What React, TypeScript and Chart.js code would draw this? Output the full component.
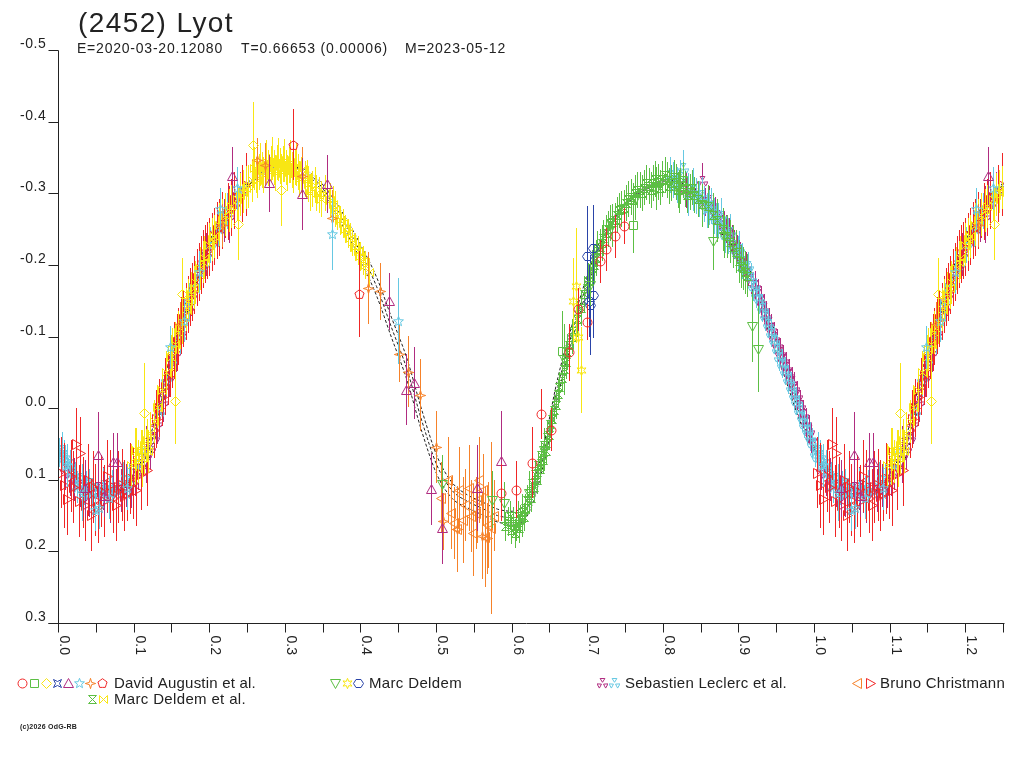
import { useEffect, useRef } from 'react'
import { Chart, registerables } from 'chart.js'

Chart.register(...registerables)

const FONT = "'Liberation Sans', Arial, sans-serif"
const INK = '#222222'

const RED = '#f02626'
const GREEN = '#5cbf44'
const YELLOW = '#f8e614'
const BLUE = '#2a44a8'
const MAGENTA = '#b02c80'
const CYAN = '#66c8e2'
const ORANGE = '#f6822a'

// axis
const xMin = 0
const xMax = 1.25
const yMin = -0.5
const yMax = 0.3
const xTicks = [0, 0.1, 0.2, 0.3, 0.4, 0.5, 0.6, 0.7, 0.8, 0.9, 1.0, 1.1, 1.2]
const xTickLabels = ['0.0', '0.1', '0.2', '0.3', '0.4', '0.5', '0.6', '0.7', '0.8', '0.9', '1.0', '1.1', '1.2']
const yTicks = [-0.5, -0.4, -0.3, -0.2, -0.1, 0, 0.1, 0.2, 0.3]
const yTickLabels = ['-0.5', '-0.4', '-0.3', '-0.2', '-0.1', '0.0', '0.1', '0.2', '0.3']

// fitted model (phase, mag) and its two envelopes
const modelPhase = [0.00, 0.02, 0.04, 0.06, 0.08, 0.10, 0.12, 0.14, 0.16, 0.18, 0.20, 0.22, 0.24, 0.26, 0.28, 0.30, 0.32, 0.34, 0.36, 0.38, 0.40, 0.42, 0.44, 0.46, 0.48, 0.50, 0.52, 0.54, 0.56, 0.58, 0.60, 0.62, 0.64, 0.66, 0.68, 0.70, 0.72, 0.74, 0.76, 0.78, 0.80, 0.82, 0.84, 0.86, 0.88, 0.90, 0.92, 0.94, 0.96, 0.98, 1.00]
const modelMag = [0.060, 0.095, 0.112, 0.116, 0.112, 0.095, 0.055, -0.030, -0.110, -0.178, -0.235, -0.275, -0.303, -0.321, -0.333, -0.338, -0.334, -0.318, -0.290, -0.255, -0.215, -0.170, -0.112, -0.055, 0.018, 0.080, 0.115, 0.130, 0.140, 0.150, 0.153, 0.138, 0.070, -0.030, -0.110, -0.180, -0.238, -0.273, -0.296, -0.309, -0.316, -0.315, -0.304, -0.280, -0.245, -0.210, -0.168, -0.115, -0.055, 0.008, 0.060]
const modelUpper = [0.056, 0.091, 0.108, 0.112, 0.108, 0.091, 0.042, -0.044, -0.121, -0.187, -0.242, -0.279, -0.306, -0.323, -0.335, -0.340, -0.336, -0.322, -0.297, -0.264, -0.226, -0.183, -0.126, -0.070, 0.003, 0.067, 0.104, 0.121, 0.131, 0.141, 0.144, 0.127, 0.057, -0.043, -0.121, -0.189, -0.243, -0.276, -0.298, -0.311, -0.318, -0.317, -0.307, -0.285, -0.252, -0.219, -0.179, -0.127, -0.067, -0.002, 0.056]
const modelLower = [0.064, 0.099, 0.116, 0.120, 0.116, 0.099, 0.068, -0.016, -0.099, -0.169, -0.228, -0.271, -0.300, -0.319, -0.331, -0.336, -0.332, -0.314, -0.283, -0.246, -0.204, -0.157, -0.098, -0.040, 0.033, 0.093, 0.126, 0.139, 0.149, 0.159, 0.162, 0.149, 0.083, -0.017, -0.099, -0.171, -0.233, -0.270, -0.294, -0.307, -0.314, -0.313, -0.301, -0.275, -0.238, -0.201, -0.157, -0.103, -0.043, 0.018, 0.064]

// observations: [phase, mag, error]
const augustinCircle = [[0.584, 0.118, 0.04], [0.605, 0.114, 0.04], [0.625, 0.076, 0.05], [0.638, 0.008, 0.035], [0.651, 0.030, 0.03], [0.675, -0.078, 0.04], [0.686, -0.138, 0.03], [0.698, -0.120, 0.025], [0.716, -0.205, 0.03], [0.724, -0.222, 0.03], [0.736, -0.240, 0.03], [0.748, -0.254, 0.025]]
const augustinSquare = [[0.666, -0.080, 0.055], [0.759, -0.256, 0.04]]
const augustinDiamond = [[0.112, 0.007, 0.07], [0.154, -0.010, 0.06], [0.163, -0.160, 0.05], [0.237, -0.257, 0.05], [0.257, -0.368, 0.06], [0.294, -0.304, 0.05]]
const augustinBowtie: number[][] = []
const augustinTriangle = [[0.035, 0.112, 0.04], [0.052, 0.065, 0.06], [0.060, 0.122, 0.03], [0.072, 0.075, 0.04], [0.077, 0.075, 0.04], [0.229, -0.324, 0.04], [0.278, -0.314, 0.04], [0.322, -0.299, 0.05], [0.354, -0.313, 0.04], [0.436, -0.149, 0.04], [0.459, -0.026, 0.05], [0.469, -0.035, 0.05], [0.492, 0.113, 0.05], [0.507, 0.168, 0.05], [0.553, 0.111, 0.06], [0.585, 0.074, 0.07]]
const augustinStar = [[0.010, 0.080, 0.03], [0.030, 0.118, 0.04], [0.048, 0.142, 0.03], [0.053, 0.139, 0.03], [0.066, 0.125, 0.03], [0.090, 0.112, 0.03], [0.147, -0.085, 0.03], [0.165, -0.122, 0.03], [0.185, -0.190, 0.03], [0.213, -0.278, 0.03], [0.236, -0.307, 0.03], [0.361, -0.243, 0.05], [0.449, -0.122, 0.06]]
const augustinFourStar = [[0.160, -0.118, 0.03], [0.215, -0.255, 0.03], [0.262, -0.347, 0.03], [0.273, -0.340, 0.03], [0.322, -0.324, 0.04], [0.361, -0.265, 0.04], [0.409, -0.168, 0.05], [0.424, -0.163, 0.04], [0.450, -0.076, 0.04], [0.462, -0.051, 0.05], [0.477, -0.018, 0.05], [0.499, 0.054, 0.05], [0.508, 0.158, 0.04], [0.527, 0.169, 0.05], [0.559, 0.179, 0.06], [0.566, 0.182, 0.05]]
const augustinPentagon = [[0.310, -0.368, 0.05], [0.397, -0.160, 0.06]]

const deldemTriDown = [[0.506, 0.106, 0.04], [0.573, 0.128, 0.04], [0.588, 0.133, 0.03], [0.612, 0.150, 0.03], [0.622, 0.118, 0.03], [0.641, 0.058, 0.03], [0.668, -0.068, 0.05], [0.702, -0.172, 0.03], [0.731, -0.255, 0.03], [0.762, -0.292, 0.03], [0.790, -0.306, 0.03], [0.820, -0.302, 0.03], [0.850, -0.283, 0.03], [0.865, -0.233, 0.04], [0.880, -0.240, 0.03], [0.917, -0.114, 0.05], [0.925, -0.082, 0.06]]
const deldemStar = [[0.680, -0.150, 0.06], [0.684, -0.171, 0.08], [0.686, -0.099, 0.05], [0.690, -0.053, 0.06]]
const deldemHexagon = [[0.699, -0.212, 0.07], [0.701, -0.150, 0.05], [0.703, -0.144, 0.07], [0.706, -0.158, 0.06], [0.707, -0.224, 0.06]]

const leclercMagenta = [[0.008, 0.085, 0.03], [0.015, 0.092, 0.03], [0.020, 0.100, 0.03], [0.028, 0.108, 0.03], [0.035, 0.110, 0.03], [0.040, 0.122, 0.03], [0.045, 0.118, 0.03], [0.052, 0.110, 0.03], [0.058, 0.112, 0.03], [0.064, 0.116, 0.03], [0.068, 0.120, 0.04], [0.075, 0.118, 0.03], [0.082, 0.115, 0.03], [0.088, 0.108, 0.03], [0.095, 0.100, 0.04], [0.100, 0.092, 0.03], [0.105, 0.085, 0.03], [0.110, 0.078, 0.03], [0.115, 0.065, 0.04], [0.120, 0.055, 0.03], [0.125, 0.040, 0.03], [0.130, 0.020, 0.03], [0.138, -0.010, 0.03], [0.145, -0.045, 0.03], [0.150, -0.062, 0.03], [0.155, -0.080, 0.03], [0.162, -0.108, 0.03], [0.170, -0.140, 0.03], [0.175, -0.158, 0.03], [0.180, -0.175, 0.03], [0.188, -0.195, 0.03], [0.195, -0.215, 0.03], [0.205, -0.232, 0.03], [0.212, -0.250, 0.03], [0.218, -0.262, 0.03], [0.225, -0.270, 0.04], [0.232, -0.285, 0.03], [0.240, -0.300, 0.03],
  [0.830, -0.305, 0.025], [0.840, -0.300, 0.02], [0.851, -0.317, 0.025], [0.855, -0.288, 0.02], [0.860, -0.290, 0.02], [0.863, -0.280, 0.02], [0.868, -0.275, 0.02], [0.871, -0.270, 0.02], [0.875, -0.262, 0.02], [0.879, -0.255, 0.02], [0.882, -0.250, 0.02], [0.886, -0.245, 0.02], [0.890, -0.235, 0.02], [0.893, -0.228, 0.02], [0.897, -0.222, 0.02], [0.901, -0.212, 0.02], [0.905, -0.205, 0.02], [0.909, -0.198, 0.02], [0.912, -0.190, 0.02], [0.916, -0.180, 0.02], [0.920, -0.172, 0.02], [0.924, -0.160, 0.02], [0.928, -0.150, 0.02], [0.932, -0.140, 0.02], [0.935, -0.130, 0.02], [0.939, -0.120, 0.02], [0.942, -0.112, 0.02], [0.946, -0.100, 0.02], [0.950, -0.090, 0.02], [0.954, -0.078, 0.02], [0.958, -0.068, 0.02], [0.962, -0.058, 0.02], [0.965, -0.048, 0.02], [0.969, -0.038, 0.02], [0.972, -0.030, 0.02], [0.976, -0.018, 0.02], [0.980, -0.005, 0.02], [0.984, 0.008, 0.02], [0.988, 0.020, 0.02], [0.992, 0.030, 0.02], [0.995, 0.042, 0.02]]
const leclercCyan = [[0.000, 0.062, 0.02], [0.002, 0.068, 0.02], [0.004, 0.058, 0.025], [0.006, 0.065, 0.02], [0.008, 0.072, 0.02], [0.011, 0.082, 0.02], [0.014, 0.078, 0.02], [0.018, 0.090, 0.02], [0.021, 0.095, 0.02], [0.024, 0.112, 0.02], [0.028, 0.098, 0.02], [0.033, 0.115, 0.02], [0.036, 0.108, 0.02], [0.040, 0.105, 0.02], [0.044, 0.118, 0.02], [0.048, 0.112, 0.025], [0.052, 0.120, 0.025], [0.058, 0.108, 0.025], [0.064, 0.115, 0.025], [0.070, 0.112, 0.025], [0.076, 0.118, 0.025], [0.085, 0.100, 0.025], [0.092, 0.102, 0.025], [0.100, 0.080, 0.025], [0.110, 0.060, 0.025], [0.132, 0.005, 0.02], [0.142, -0.040, 0.025], [0.150, -0.068, 0.025], [0.160, -0.100, 0.025], [0.165, -0.125, 0.025], [0.172, -0.150, 0.025], [0.180, -0.175, 0.025], [0.190, -0.200, 0.025], [0.200, -0.228, 0.025], [0.210, -0.250, 0.025], [0.215, -0.262, 0.025], [0.222, -0.275, 0.025], [0.232, -0.290, 0.025], [0.240, -0.302, 0.025],
  [0.808, -0.325, 0.025], [0.812, -0.318, 0.025], [0.818, -0.312, 0.025], [0.822, -0.322, 0.025], [0.826, -0.335, 0.025], [0.832, -0.298, 0.03], [0.838, -0.305, 0.03], [0.842, -0.296, 0.025], [0.846, -0.292, 0.025], [0.850, -0.298, 0.025], [0.853, -0.285, 0.025], [0.857, -0.276, 0.025], [0.860, -0.280, 0.025], [0.863, -0.282, 0.025], [0.866, -0.268, 0.025], [0.869, -0.262, 0.025], [0.872, -0.262, 0.025], [0.875, -0.268, 0.025], [0.878, -0.250, 0.025], [0.881, -0.242, 0.025], [0.885, -0.240, 0.025], [0.888, -0.246, 0.025], [0.892, -0.228, 0.025], [0.895, -0.220, 0.025], [0.898, -0.215, 0.025], [0.900, -0.222, 0.025], [0.903, -0.205, 0.025], [0.908, -0.195, 0.025], [0.912, -0.198, 0.02], [0.915, -0.182, 0.02], [0.918, -0.170, 0.02], [0.922, -0.160, 0.02], [0.926, -0.152, 0.02], [0.930, -0.140, 0.02], [0.934, -0.128, 0.02], [0.938, -0.118, 0.02], [0.942, -0.105, 0.02], [0.946, -0.095, 0.02], [0.950, -0.082, 0.02], [0.953, -0.072, 0.02], [0.956, -0.062, 0.02], [0.960, -0.052, 0.02], [0.964, -0.040, 0.02], [0.968, -0.030, 0.02], [0.972, -0.018, 0.02], [0.975, -0.010, 0.02], [0.979, 0.002, 0.02], [0.983, 0.012, 0.02], [0.986, 0.022, 0.02], [0.990, 0.030, 0.02], [0.993, 0.040, 0.02], [0.996, 0.048, 0.02]]

const christmannLeft = [[0.505, 0.125, 0.05], [0.514, 0.100, 0.06], [0.518, 0.146, 0.05], [0.522, 0.160, 0.05], [0.527, 0.169, 0.06], [0.529, 0.114, 0.06], [0.534, 0.156, 0.06], [0.537, 0.135, 0.05], [0.542, 0.111, 0.06], [0.545, 0.151, 0.05], [0.547, 0.175, 0.06], [0.551, 0.146, 0.05], [0.553, 0.128, 0.06], [0.555, 0.100, 0.06], [0.561, 0.114, 0.05], [0.564, 0.180, 0.07], [0.567, 0.163, 0.06], [0.571, 0.167, 0.12], [0.575, 0.150, 0.05]]
const christmannRight = [[0.003, 0.090, 0.05], [0.006, 0.108, 0.06], [0.011, 0.127, 0.05], [0.016, 0.095, 0.05], [0.019, 0.110, 0.05], [0.022, 0.050, 0.05], [0.026, 0.130, 0.05], [0.028, 0.063, 0.05], [0.032, 0.118, 0.05], [0.035, 0.135, 0.05], [0.038, 0.100, 0.05], [0.042, 0.149, 0.05], [0.045, 0.110, 0.05], [0.048, 0.128, 0.05], [0.052, 0.138, 0.05], [0.055, 0.116, 0.05], [0.060, 0.130, 0.05], [0.064, 0.095, 0.05], [0.068, 0.108, 0.05], [0.072, 0.125, 0.05], [0.075, 0.135, 0.05], [0.078, 0.110, 0.05], [0.083, 0.107, 0.05], [0.086, 0.122, 0.05], [0.090, 0.118, 0.04], [0.094, 0.098, 0.05], [0.098, 0.105, 0.05], [0.102, 0.115, 0.05], [0.108, 0.092, 0.05], [0.117, 0.086, 0.05], [0.125, 0.030, 0.04], [0.128, 0.015, 0.04], [0.132, 0.000, 0.04], [0.136, -0.015, 0.04], [0.140, -0.030, 0.04], [0.144, -0.045, 0.04], [0.147, -0.055, 0.04], [0.150, -0.068, 0.04], [0.152, -0.080, 0.04], [0.156, -0.092, 0.04], [0.158, -0.100, 0.04], [0.162, -0.115, 0.04], [0.164, -0.125, 0.04], [0.168, -0.135, 0.04], [0.170, -0.145, 0.04], [0.173, -0.155, 0.04], [0.176, -0.162, 0.04], [0.179, -0.172, 0.04], [0.182, -0.182, 0.04], [0.185, -0.190, 0.04], [0.188, -0.200, 0.04], [0.191, -0.208, 0.04], [0.193, -0.215, 0.04], [0.196, -0.220, 0.04], [0.198, -0.225, 0.04], [0.202, -0.232, 0.04], [0.205, -0.240, 0.04], [0.209, -0.248, 0.04], [0.212, -0.252, 0.04], [0.216, -0.262, 0.04], [0.220, -0.268, 0.03], [0.224, -0.275, 0.04], [0.228, -0.280, 0.04], [0.232, -0.290, 0.04], [0.236, -0.295, 0.03], [0.242, -0.300, 0.04], [0.247, -0.312, 0.044]]

const deldemEtAlHourglass = [[0.590, 0.165, 0.02], [0.594, 0.158, 0.02], [0.596, 0.150, 0.02], [0.598, 0.170, 0.02], [0.601, 0.158, 0.02], [0.603, 0.175, 0.02], [0.604, 0.165, 0.02], [0.607, 0.150, 0.02], [0.609, 0.168, 0.02], [0.610, 0.155, 0.02], [0.613, 0.145, 0.02], [0.615, 0.152, 0.02], [0.616, 0.140, 0.02], [0.619, 0.128, 0.02], [0.622, 0.118, 0.02], [0.624, 0.125, 0.02], [0.626, 0.105, 0.02], [0.628, 0.110, 0.02], [0.630, 0.092, 0.02], [0.632, 0.100, 0.02], [0.634, 0.080, 0.02], [0.636, 0.085, 0.02], [0.638, 0.066, 0.02], [0.640, 0.072, 0.02], [0.642, 0.052, 0.02], [0.644, 0.060, 0.02], [0.646, 0.040, 0.02], [0.648, 0.038, 0.02], [0.650, 0.022, 0.02], [0.652, 0.015, 0.02], [0.655, 0.002, 0.02], [0.658, -0.005, 0.02], [0.660, -0.020, 0.02], [0.662, -0.030, 0.02], [0.665, -0.042, 0.02], [0.668, -0.055, 0.025], [0.670, -0.065, 0.025], [0.672, -0.078, 0.025], [0.675, -0.088, 0.025], [0.678, -0.100, 0.025], [0.680, -0.108, 0.025], [0.685, -0.125, 0.025], [0.690, -0.140, 0.025], [0.695, -0.160, 0.025], [0.698, -0.168, 0.025], [0.700, -0.178, 0.025], [0.705, -0.196, 0.025], [0.708, -0.200, 0.025], [0.710, -0.210, 0.025], [0.712, -0.222, 0.025], [0.715, -0.225, 0.025], [0.718, -0.230, 0.025], [0.720, -0.238, 0.025], [0.723, -0.245, 0.025], [0.726, -0.250, 0.025], [0.729, -0.258, 0.025], [0.732, -0.260, 0.025], [0.735, -0.262, 0.025], [0.738, -0.270, 0.025], [0.741, -0.276, 0.025], [0.744, -0.278, 0.025], [0.747, -0.280, 0.025], [0.750, -0.286, 0.025], [0.753, -0.292, 0.025], [0.756, -0.295, 0.025], [0.759, -0.290, 0.025], [0.762, -0.300, 0.025], [0.765, -0.305, 0.025], [0.768, -0.304, 0.025], [0.771, -0.300, 0.025], [0.774, -0.308, 0.025], [0.777, -0.315, 0.025], [0.780, -0.310, 0.025], [0.783, -0.305, 0.025], [0.786, -0.314, 0.025], [0.789, -0.320, 0.025], [0.792, -0.316, 0.025], [0.795, -0.308, 0.025], [0.798, -0.320, 0.025], [0.801, -0.325, 0.025], [0.804, -0.318, 0.025], [0.807, -0.310, 0.025], [0.810, -0.314, 0.025], [0.813, -0.322, 0.025], [0.816, -0.316, 0.025], [0.819, -0.305, 0.025], [0.822, -0.310, 0.025], [0.825, -0.318, 0.025], [0.828, -0.306, 0.025], [0.831, -0.298, 0.025], [0.834, -0.302, 0.025], [0.837, -0.308, 0.025], [0.840, -0.298, 0.025], [0.845, -0.292, 0.025], [0.850, -0.285, 0.025], [0.858, -0.282, 0.03], [0.865, -0.270, 0.03], [0.870, -0.262, 0.03], [0.878, -0.250, 0.03], [0.884, -0.240, 0.03], [0.888, -0.232, 0.03], [0.892, -0.225, 0.03], [0.895, -0.218, 0.03], [0.900, -0.205, 0.03], [0.902, -0.198, 0.03], [0.905, -0.195, 0.03], [0.908, -0.190, 0.03], [0.910, -0.185, 0.03]]
const deldemEtAlBowtie = [[0.095, 0.080, 0.03], [0.100, 0.068, 0.04], [0.102, 0.058, 0.03], [0.104, 0.075, 0.03], [0.108, 0.060, 0.03], [0.110, 0.070, 0.04], [0.112, 0.052, 0.04], [0.116, 0.045, 0.03], [0.118, 0.060, 0.03], [0.120, 0.035, 0.03], [0.125, 0.018, 0.03], [0.130, -0.002, 0.03], [0.136, -0.025, 0.03], [0.142, -0.050, 0.03], [0.148, -0.072, 0.03], [0.150, -0.082, 0.03], [0.153, -0.090, 0.03], [0.158, -0.106, 0.03], [0.160, -0.112, 0.03], [0.163, -0.120, 0.03], [0.168, -0.138, 0.03], [0.170, -0.150, 0.03], [0.175, -0.160, 0.03], [0.178, -0.168, 0.03], [0.180, -0.176, 0.03], [0.186, -0.195, 0.03], [0.190, -0.204, 0.03], [0.192, -0.210, 0.03], [0.198, -0.228, 0.03], [0.202, -0.236, 0.03], [0.205, -0.240, 0.03], [0.212, -0.256, 0.03], [0.215, -0.262, 0.03], [0.220, -0.270, 0.03], [0.225, -0.276, 0.03], [0.228, -0.282, 0.03], [0.236, -0.292, 0.03], [0.240, -0.298, 0.03], [0.244, -0.302, 0.03], [0.248, -0.308, 0.03], [0.250, -0.310, 0.03], [0.255, -0.318, 0.03], [0.258, -0.335, 0.03], [0.260, -0.325, 0.025], [0.262, -0.318, 0.025], [0.264, -0.330, 0.025], [0.266, -0.340, 0.03], [0.268, -0.333, 0.025], [0.270, -0.326, 0.025], [0.272, -0.338, 0.025], [0.274, -0.345, 0.03], [0.276, -0.335, 0.025], [0.278, -0.330, 0.025], [0.280, -0.341, 0.025], [0.282, -0.348, 0.03], [0.284, -0.336, 0.025], [0.286, -0.328, 0.025], [0.288, -0.343, 0.025], [0.290, -0.347, 0.03], [0.292, -0.338, 0.025], [0.294, -0.330, 0.025], [0.296, -0.341, 0.025], [0.298, -0.346, 0.03], [0.300, -0.336, 0.025], [0.302, -0.328, 0.025], [0.304, -0.339, 0.025], [0.306, -0.344, 0.03], [0.308, -0.333, 0.025], [0.310, -0.326, 0.025], [0.312, -0.336, 0.025], [0.314, -0.340, 0.03], [0.316, -0.330, 0.025], [0.318, -0.320, 0.025], [0.320, -0.326, 0.025], [0.322, -0.334, 0.03], [0.325, -0.320, 0.025], [0.328, -0.322, 0.025], [0.330, -0.313, 0.025], [0.332, -0.300, 0.025], [0.335, -0.306, 0.025], [0.338, -0.312, 0.025], [0.340, -0.300, 0.025], [0.344, -0.298, 0.025], [0.346, -0.292, 0.025], [0.352, -0.300, 0.025], [0.358, -0.290, 0.025], [0.362, -0.285, 0.025], [0.365, -0.278, 0.025], [0.368, -0.268, 0.02], [0.372, -0.262, 0.02], [0.375, -0.258, 0.02], [0.378, -0.250, 0.02], [0.382, -0.244, 0.02], [0.385, -0.238, 0.02], [0.388, -0.232, 0.02], [0.392, -0.225, 0.02], [0.395, -0.220, 0.02], [0.398, -0.212, 0.02], [0.402, -0.206, 0.02], [0.405, -0.200, 0.02], [0.410, -0.190, 0.02]]

// small hollow markers, drawn once into canvases and used as point styles
function makeMarker(shape: string, color: string) {
  const c = document.createElement('canvas')
  c.width = 11
  c.height = 11
  const g = c.getContext('2d')!
  g.strokeStyle = color
  g.lineWidth = 1
  g.translate(5.5, 5.5)
  g.beginPath()
  const poly = (p: number[][]) => {
    p.forEach(([x, y], i) => (i ? g.lineTo(x, y) : g.moveTo(x, y)))
    g.closePath()
  }
  const star = (n: number, ro: number, ri: number, rot = -Math.PI / 2) => {
    const p: number[][] = []
    for (let i = 0; i < n * 2; i++) {
      const r = i % 2 ? ri : ro
      const a = rot + (i * Math.PI) / n
      p.push([r * Math.cos(a), r * Math.sin(a)])
    }
    poly(p)
  }
  switch (shape) {
    case 'circle': g.arc(0, 0, 4.5, 0, Math.PI * 2); break
    case 'square': g.rect(-4, -4, 8, 8); break
    case 'diamond': poly([[0, -5], [5, 0], [0, 5], [-5, 0]]); break
    case 'bowtieSquare': poly([[-4, -4], [0, -2], [4, -4], [2, 0], [4, 4], [0, 2], [-4, 4], [-2, 0]]); break
    case 'triangle': poly([[0, -5], [5, 4], [-5, 4]]); break
    case 'star5': star(5, 5.2, 2.2); break
    case 'star4': star(4, 5.2, 1.6); break
    case 'star6': star(6, 5.2, 2.4); break
    case 'pentagon': star(5, 4.8, 4.8 * Math.cos(Math.PI / 5)); break
    case 'hexagon': poly([[-5, 0], [-2.5, -4], [2.5, -4], [5, 0], [2.5, 4], [-2.5, 4]]); break
    case 'triDown': poly([[0, 5], [5, -4], [-5, -4]]); break
    case 'triLeft': poly([[-5, 0], [4, -5], [4, 5]]); break
    case 'triRight': poly([[5, 0], [-4, -5], [-4, 5]]); break
    case 'hourglass': poly([[-4, -4], [4, -4], [-4, 4], [4, 4]]); break
    case 'bowtie': poly([[-4, -4], [4, 4], [4, -4], [-4, 4]]); break
    case 'trefoil':
      ;[-90, 30, 150].forEach((deg) => {
        const a = (deg * Math.PI) / 180
        const ux = Math.cos(a), uy = Math.sin(a)
        const px = -uy, py = ux
        g.moveTo(ux * 1.2, uy * 1.2)
        g.lineTo(ux * 5 + px * 2.4, uy * 5 + py * 2.4)
        g.lineTo(ux * 5 - px * 2.4, uy * 5 - py * 2.4)
        g.closePath()
      })
      break
  }
  g.stroke()
  return c
}

// fold: points of phase < 0.25 are shown again one cycle later
function toPoints(rows: number[][]) {
  const out = rows.map(([x, y, e]) => ({ x, y, e }))
  rows.filter((r) => r[0] < 0.25).forEach(([x, y, e]) => out.push({ x: x + 1, y, e }))
  return out
}

function toCurve(mags: number[]) {
  const out = modelPhase.map((p, i) => ({ x: p, y: mags[i] }))
  modelPhase.forEach((p, i) => {
    if (i > 0 && p <= 0.26) out.push({ x: p + 1, y: mags[i] })
  })
  return out
}

// error bars under each marker; markers are placed on whole pixels so they stay sharp
const errorBars = {
  id: 'errorBars',
  beforeDatasetDraw(chart: any, args: any) {
    const ds = chart.data.datasets[args.index]
    if (!ds.errorBars) return
    const { ctx, chartArea } = chart
    const ys = chart.scales.y
    const els = args.meta.data
    ctx.save()
    ctx.beginPath()
    ctx.rect(chartArea.left, chartArea.top, chartArea.right - chartArea.left, chartArea.bottom - chartArea.top)
    ctx.clip()
    ctx.strokeStyle = ds.borderColor
    ctx.lineWidth = 1
    ctx.beginPath()
    ds.data.forEach((d: any, i: number) => {
      const px = Math.round(els[i].x) + 0.5
      ctx.moveTo(px, Math.round(ys.getPixelForValue(d.y - d.e)))
      ctx.lineTo(px, Math.round(ys.getPixelForValue(d.y + d.e)))
    })
    ctx.stroke()
    els.forEach((el: any) => {
      ctx.drawImage(ds.pointStyle, Math.round(el.x) - 5, Math.round(el.y) - 5)
    })
    ctx.restore()
    return false
  },
}

function fitText(ctx: CanvasRenderingContext2D, text: string, x: number, y: number, width: number) {
  ;(ctx as any).letterSpacing = '0px'
  const w = ctx.measureText(text).width
  ;(ctx as any).letterSpacing = `${(width - w) / text.length}px`
  ctx.fillText(text, x, y)
  ;(ctx as any).letterSpacing = '0px'
}

export default function App() {
  const canvasRef = useRef<HTMLCanvasElement | null>(null)
  const chartRef = useRef<Chart | null>(null)

  useEffect(() => {
    document.body.style.margin = '0'
    const ctx = canvasRef.current?.getContext('2d')
    if (!ctx) return
    if (chartRef.current) chartRef.current.destroy()

    const m = {
      circle: makeMarker('circle', RED),
      square: makeMarker('square', GREEN),
      diamond: makeMarker('diamond', YELLOW),
      bowtieSq: makeMarker('bowtieSquare', BLUE),
      triangle: makeMarker('triangle', MAGENTA),
      star5: makeMarker('star5', CYAN),
      star4: makeMarker('star4', ORANGE),
      pentagon: makeMarker('pentagon', RED),
      triDown: makeMarker('triDown', GREEN),
      star6: makeMarker('star6', YELLOW),
      hexagon: makeMarker('hexagon', BLUE),
      trefoilM: makeMarker('trefoil', MAGENTA),
      trefoilC: makeMarker('trefoil', CYAN),
      triLeft: makeMarker('triLeft', ORANGE),
      triRight: makeMarker('triRight', RED),
      hourglass: makeMarker('hourglass', GREEN),
      bowtie: makeMarker('bowtie', YELLOW),
    }

    const line = (label: string, mags: number[], dash: number[]) => ({
      label,
      data: toCurve(mags),
      showLine: true,
      borderColor: INK,
      borderWidth: 1,
      borderDash: dash,
      pointRadius: 0,
      cubicInterpolationMode: 'monotone',
    })
    const series = (label: string, rows: number[][], color: string, style: HTMLCanvasElement) => ({
      label,
      data: toPoints(rows),
      borderColor: color,
      backgroundColor: color,
      pointStyle: style,
      pointRadius: 4,
      errorBars: true,
    })

    const decor = {
      id: 'decor',
      afterDraw(chart: any) {
        const c: CanvasRenderingContext2D = chart.ctx
        const xs = chart.scales.x
        const ys = chart.scales.y
        c.save()
        c.strokeStyle = INK
        c.fillStyle = INK
        c.lineWidth = 1
        const ax = Math.round(xs.getPixelForValue(xMin)) - 0.5
        const ay = Math.round(ys.getPixelForValue(yMax)) + 0.5
        c.beginPath()
        c.moveTo(ax, Math.round(ys.getPixelForValue(yMin)) + 0.5)
        c.lineTo(ax, ay)
        c.moveTo(ax - 10, ay)
        c.lineTo(Math.round(xs.getPixelForValue(xMax)) + 0.5, ay)
        yTicks.forEach((v) => {
          const y = Math.round(ys.getPixelForValue(v)) + 0.5
          c.moveTo(ax - 10, y)
          c.lineTo(ax, y)
        })
        for (let i = 0; i <= 25; i++) {
          const x = Math.round(xs.getPixelForValue(i * 0.05)) - 0.5
          c.moveTo(x, ay)
          c.lineTo(x, ay + 9)
        }
        c.stroke()

        c.font = `14px ${FONT}`
        c.textAlign = 'right'
        c.textBaseline = 'alphabetic'
        ;(c as any).letterSpacing = '0.6px'
        yTicks.forEach((v, i) => {
          c.fillText(yTickLabels[i], ax - 12, Math.round(ys.getPixelForValue(v)) - 2)
        })
        ;(c as any).letterSpacing = '0px'
        c.textAlign = 'left'
        xTicks.forEach((v, i) => {
          c.save()
          c.translate(Math.round(xs.getPixelForValue(v)) + 1, ay + 12)
          c.rotate(Math.PI / 2)
          c.fillText(xTickLabels[i], 0, 0)
          c.restore()
        })

        // title and header
        c.font = `28px ${FONT}`
        fitText(c, '(2452) Lyot', 78, 32, 156)
        c.font = `14px ${FONT}`
        fitText(c, 'E=2020-03-20.12080', 77, 53, 146)
        fitText(c, 'T=0.66653 (0.00006)', 241, 53, 147)
        fitText(c, 'M=2023-05-12', 405, 53, 101)

        // legend
        const mk = (img: HTMLCanvasElement, x: number, y: number) => c.drawImage(img, Math.round(x) - 5, y - 5)
        ;[m.circle, m.square, m.diamond, m.bowtieSq, m.triangle, m.star5, m.star4, m.pentagon].forEach((img, i) =>
          mk(img, [22, 34, 46, 57, 68, 79, 90, 102][i], 683),
        )
        ;[m.triDown, m.star6, m.hexagon].forEach((img, i) => mk(img, [335, 347, 358][i], 683))
        ;[m.trefoilM, m.trefoilC].forEach((img, i) => mk(img, [602, 614][i], 683))
        ;[m.triLeft, m.triRight].forEach((img, i) => mk(img, [857, 870][i], 683))
        ;[m.hourglass, m.bowtie].forEach((img, i) => mk(img, [92, 103][i], 699))
        c.font = `15px ${FONT}`
        fitText(c, 'David Augustin et al.', 114, 688, 142)
        fitText(c, 'Marc Deldem', 369, 688, 93)
        fitText(c, 'Sebastien Leclerc et al.', 625, 688, 162)
        fitText(c, 'Bruno Christmann', 880, 688, 125)
        fitText(c, 'Marc Deldem et al.', 114, 704, 132)

        c.font = `bold 7px ${FONT}`
        fitText(c, '(c)2026 OdG-RB', 20, 729, 57)
        c.restore()
      },
    }

    chartRef.current = new Chart(ctx, {
      type: 'scatter',
      data: {
        datasets: [
          series('David Augustin et al.', augustinCircle, RED, m.circle),
          series('David Augustin et al.', augustinSquare, GREEN, m.square),
          series('David Augustin et al.', augustinDiamond, YELLOW, m.diamond),
          series('David Augustin et al.', augustinBowtie, BLUE, m.bowtieSq),
          series('David Augustin et al.', augustinTriangle, MAGENTA, m.triangle),
          series('David Augustin et al.', augustinStar, CYAN, m.star5),
          series('David Augustin et al.', augustinFourStar, ORANGE, m.star4),
          series('David Augustin et al.', augustinPentagon, RED, m.pentagon),
          series('Marc Deldem', deldemTriDown, GREEN, m.triDown),
          series('Marc Deldem', deldemStar, YELLOW, m.star6),
          series('Marc Deldem', deldemHexagon, BLUE, m.hexagon),
          series('Marc Deldem et al.', deldemEtAlHourglass, GREEN, m.hourglass),
          series('Marc Deldem et al.', deldemEtAlBowtie, YELLOW, m.bowtie),
          series('Bruno Christmann', christmannLeft, ORANGE, m.triLeft),
          series('Bruno Christmann', christmannRight, RED, m.triRight),
          series('Sebastien Leclerc et al.', leclercCyan, CYAN, m.trefoilC),
          series('Sebastien Leclerc et al.', leclercMagenta, MAGENTA, m.trefoilM),
          line('model', modelMag, [3, 2]),
          line('model +', modelUpper, [3, 2]),
          line('model -', modelLower, [3, 2]),
        ] as any,
      },
      options: {
        animation: false,
        responsive: false,
        events: [],
        layout: { padding: { left: 59, right: 20, top: 50, bottom: 145 } },
        scales: {
          x: { type: 'linear', min: xMin, max: xMax, display: false },
          y: { type: 'linear', min: yMin, max: yMax, reverse: true, display: false },
        },
        plugins: {
          legend: { display: false },
          tooltip: { enabled: false },
        },
      },
      plugins: [errorBars, decor],
    })

    return () => {
      if (chartRef.current) {
        chartRef.current.destroy()
        chartRef.current = null
      }
    }
  }, [])

  return (
    <div style={{ width: 1024, height: 768, background: '#ffffff' }}>
      <canvas ref={canvasRef} width={1024} height={768} />
    </div>
  )
}
